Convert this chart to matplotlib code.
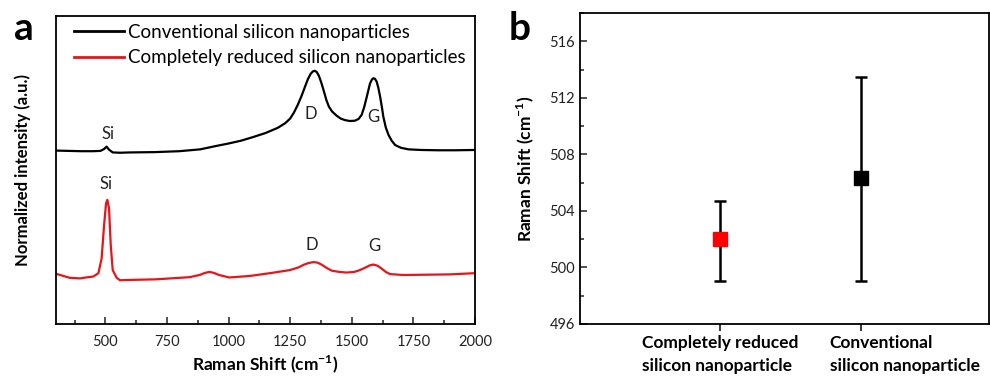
import matplotlib
matplotlib.use("Agg")
import matplotlib.pyplot as plt
from matplotlib.ticker import MultipleLocator
from matplotlib.transforms import ScaledTranslation

plt.rcParams['font.family'] = ['Lato', 'DejaVu Sans']
plt.rcParams['mathtext.fontset'] = 'custom'
plt.rcParams['mathtext.rm'] = 'Lato'
plt.rcParams['mathtext.bf'] = 'Lato:bold'

# spectra (Raman shift in cm-1, normalized intensity)
conv_shift = [300, 350, 400, 450, 480, 495, 505, 515, 530, 560, 600, 700, 800,
              885, 950, 1000, 1050, 1100, 1150, 1200, 1230, 1250, 1265, 1280,
              1295, 1310, 1322, 1333, 1342, 1350, 1358, 1367, 1377, 1387, 1397,
              1407, 1420, 1439, 1455, 1472, 1492, 1513, 1528, 1540, 1550, 1561,
              1574, 1582, 1588, 1594, 1601, 1608, 1615, 1622, 1628, 1638, 1649,
              1662, 1676, 1700, 1730, 1780, 1850, 1920, 2000]
conv_int = [0.563, 0.562, 0.561, 0.561, 0.562, 0.568, 0.576, 0.566, 0.557, 0.556,
            0.557, 0.558, 0.561, 0.567, 0.578, 0.586, 0.595, 0.607, 0.620, 0.637,
            0.652, 0.667, 0.686, 0.710, 0.738, 0.770, 0.795, 0.812, 0.820, 0.822,
            0.818, 0.805, 0.782, 0.755, 0.727, 0.706, 0.690, 0.676, 0.667, 0.662,
            0.659, 0.660, 0.666, 0.679, 0.703, 0.738, 0.781, 0.794, 0.798, 0.796,
            0.787, 0.766, 0.738, 0.705, 0.673, 0.638, 0.614, 0.595, 0.581, 0.572,
            0.567, 0.565, 0.564, 0.564, 0.565]

red_shift = [300, 355, 397, 430, 451, 472, 485, 495, 503, 508, 515, 522, 530, 546,
             560, 600, 706, 842, 882, 905, 922, 940, 962, 1003, 1087, 1168, 1249,
             1285, 1304, 1325, 1345, 1362, 1379, 1400, 1419, 1450, 1479, 1510,
             1533, 1555, 1572, 1588, 1605, 1621, 1638, 1655, 1709, 1800, 1899,
             2000]
red_int = [0.163, 0.150, 0.148, 0.152, 0.154, 0.165, 0.213, 0.321, 0.392, 0.403,
           0.376, 0.256, 0.175, 0.150, 0.142, 0.143, 0.145, 0.152, 0.159, 0.166,
           0.169, 0.166, 0.159, 0.151, 0.156, 0.165, 0.175, 0.184, 0.192, 0.198,
           0.201, 0.199, 0.192, 0.181, 0.173, 0.169, 0.167, 0.169, 0.175, 0.183,
           0.190, 0.193, 0.189, 0.180, 0.169, 0.162, 0.159, 0.160, 0.161, 0.165]

peak_labels = ['Si', 'D', 'G', 'Si', 'D', 'G']
peak_x = [510, 1335, 1588, 503, 1339, 1590]
peak_y = [0.617, 0.682, 0.671, 0.454, 0.256, 0.253]

# Si peak position statistics
samples = ['Completely reduced\nsilicon nanoparticle',
           'Conventional\nsilicon nanoparticle']
si_mean = [502.0, 506.3]
si_low = [499.05, 499.05]
si_high = [504.7, 513.5]
si_colors = ['#ff0000', 'black']

fig = plt.figure(figsize=(9.9, 3.78), dpi=100)

# ---- panel a
ax = fig.add_axes([0.0566, 0.1429, 0.4232, 0.8148])
ax.plot(conv_shift, conv_int, color='black', lw=1.6,
        label='Conventional silicon nanoparticles')
ax.plot(red_shift, red_int, color='#e8141a', lw=1.6,
        label='Completely reduced silicon nanoparticles')
for t, x, y in zip(peak_labels, peak_x, peak_y):
    ax.text(x, y, t, ha='center', va='center', fontsize=12, color='#222222')
ax.set_xlim(300, 2000)
ax.set_ylim(0, 1)
ax.xaxis.set_major_locator(MultipleLocator(250))
ax.xaxis.set_minor_locator(MultipleLocator(125))
ax.tick_params(axis='x', which='both', direction='in', top=False,
               labelsize=10.5, width=1.1, pad=8, colors='#222222')
ax.tick_params(axis='x', which='major', length=5)
ax.tick_params(axis='x', which='minor', length=3)
ax.set_yticks([])
for s in ax.spines.values():
    s.set_linewidth(1.3)
ax.set_ylabel('Normalized intensity (a.u.)', fontsize=12, fontweight='bold',
              labelpad=18)
ax.set_xlabel(r'Raman Shift (cm$^{\mathbf{-1}}$)', fontsize=12.5,
              fontweight='bold', labelpad=3)
leg = ax.legend(loc='upper left', bbox_to_anchor=(0.043, 0.975), frameon=False,
                fontsize=13.5, handlelength=2.67, handletextpad=0.2,
                labelspacing=0.45, borderaxespad=0, borderpad=0)
for h in leg.get_lines():
    h.set_linewidth(2)
fig.text(0.014, 0.925, 'a', fontsize=28, fontweight='bold', va='center')

# ---- panel b
bx = fig.add_axes([0.5859, 0.1429, 0.4131, 0.8227])
pos = [1, 2]
for i in range(2):
    bx.errorbar(pos[i], si_mean[i],
                yerr=[[si_mean[i] - si_low[i]], [si_high[i] - si_mean[i]]],
                fmt='s', color=si_colors[i], ecolor='black', elinewidth=1.8,
                capsize=4, capthick=1.8, markersize=10, zorder=3)
bx.set_xlim(0, 2.915)
bx.set_ylim(496, 518)
bx.yaxis.set_major_locator(MultipleLocator(4))
bx.yaxis.set_minor_locator(MultipleLocator(2))
bx.tick_params(axis='y', which='both', direction='in', labelsize=10.5,
               width=1.1, colors='#222222')
bx.tick_params(axis='y', which='major', length=5)
bx.tick_params(axis='y', which='minor', length=3)
bx.set_xticks(pos)
bx.set_xticklabels(samples, fontsize=12.5, fontweight='bold', linespacing=1.55,
                   multialignment='left')
bx.tick_params(axis='x', direction='out', length=5, width=1.1, pad=3)
lbls = bx.get_xticklabels()
lbls[1].set_horizontalalignment('left')
lbls[1].set_transform(lbls[1].get_transform()
                      + ScaledTranslation(-0.31, 0, fig.dpi_scale_trans))
for s in bx.spines.values():
    s.set_linewidth(1.3)
bx.set_ylabel(r'Raman Shift (cm$^{\mathbf{-1}}$)', fontsize=12.5,
              fontweight='bold', labelpad=10)
fig.text(0.514, 0.925, 'b', fontsize=28, fontweight='bold', va='center')

fig.savefig('out.png', dpi=100)
